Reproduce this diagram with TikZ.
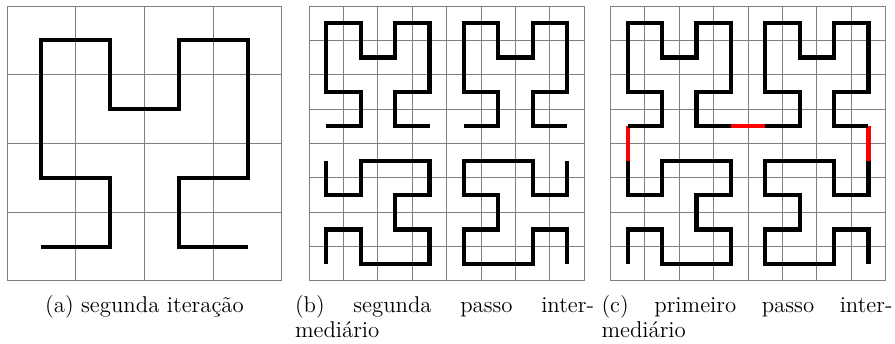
\documentclass[tikz,border=0pt]{standalone}
\usepackage{fontspec}
\newcommand\hilbertquads{%
  \draw[curve] (0.5,4.5)--(1.5,4.5)--(1.5,5.5)--(0.5,5.5)--(0.5,7.5)--(1.5,7.5)--(1.5,6.5)--(2.5,6.5)--(2.5,7.5)--(3.5,7.5)--(3.5,5.5)--(2.5,5.5)--(2.5,4.5)--(3.5,4.5);
  \draw[curve] (4.5,4.5)--(5.5,4.5)--(5.5,5.5)--(4.5,5.5)--(4.5,7.5)--(5.5,7.5)--(5.5,6.5)--(6.5,6.5)--(6.5,7.5)--(7.5,7.5)--(7.5,5.5)--(6.5,5.5)--(6.5,4.5)--(7.5,4.5);
  \draw[curve] (0.5,3.5)--(0.5,2.5)--(1.5,2.5)--(1.5,3.5)--(3.5,3.5)--(3.5,2.5)--(2.5,2.5)--(2.5,1.5)--(3.5,1.5)--(3.5,0.5)--(1.5,0.5)--(1.5,1.5)--(0.5,1.5)--(0.5,0.5);
  \draw[curve] (7.5,3.5)--(7.5,2.5)--(6.5,2.5)--(6.5,3.5)--(4.5,3.5)--(4.5,2.5)--(5.5,2.5)--(5.5,1.5)--(4.5,1.5)--(4.5,0.5)--(6.5,0.5)--(6.5,1.5)--(7.5,1.5)--(7.5,0.5);
}
\begin{document}
\begin{tikzpicture}[x=0.5pt,y=0.5pt,
  gridline/.style={draw=black!50, line width=0.5pt},
  curve/.style={draw=black, line width=2.1pt, line join=miter, line cap=butt},
  link/.style={draw=red, line width=2.1pt, line cap=butt},
  captext/.style={inner sep=0pt, outer sep=0pt, font=\fontsize{11.4pt}{13.7pt}\selectfont}]
\useasboundingbox (0,0) rectangle (895,343);

% panel (a)
\begin{scope}[shift={(3.5pt,31pt)}, x=17.1875pt, y=17.1875pt]
  \draw[gridline] (0,0) grid[step=2] (8,8);
  \draw[curve] (1,1)--(3,1)--(3,3)--(1,3)--(1,7)--(3,7)--(3,5)--(5,5)--(5,7)--(7,7)--(7,3)--(5,3)--(5,1)--(7,1);
\end{scope}

% panel (b)
\begin{scope}[shift={(154.6pt,31pt)}, x=17.1875pt, y=17.1875pt]
  \draw[gridline] (0,0) grid[step=1] (8,8);
  \hilbertquads
\end{scope}

% panel (c)
\begin{scope}[shift={(305.3pt,31pt)}, x=17.1875pt, y=17.1875pt]
  \draw[gridline] (0,0) grid[step=1] (8,8);
  \draw[link] (0.5,3.5)--(0.5,4.5);
  \draw[link] (3.5,4.5)--(4.5,4.5);
  \draw[link] (7.5,3.5)--(7.5,4.5);
  \hilbertquads
\end{scope}

% captions
\node[captext, anchor=base] (capa) at (144.5,30.5) {(a) segunda iteração};
\node[captext, anchor=base west] (capb1) at (295,30.5) {\makebox[149.5pt][s]{(b) segunda passo inter-}};
\node[captext, anchor=base west] (capb2) at (295,5) {mediário};
\node[captext, anchor=base west] (capc1) at (601.5,30.5) {\makebox[145.5pt][s]{(c) primeiro passo inter-}};
\node[captext, anchor=base west] (capc2) at (601.5,5) {mediário};
\end{tikzpicture}
\end{document}
